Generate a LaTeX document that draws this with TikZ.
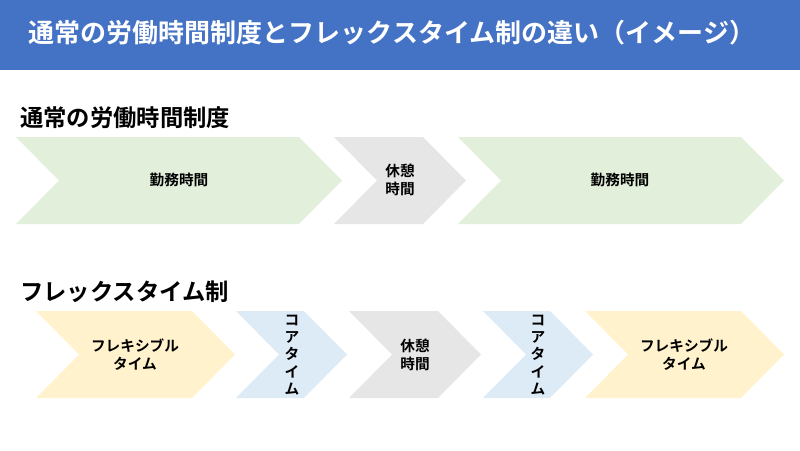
\documentclass[tikz,border=0pt]{standalone}
\usepackage{fontspec}
\setmainfont{Noto Sans CJK JP}[BoldFont={Noto Sans CJK JP Bold}]
\begin{document}
\begin{tikzpicture}[x=0.75pt,y=-0.75pt,
  lbl/.style={font=\bfseries\fontsize{11}{13.5}\selectfont,align=center,inner sep=0},
  vlbl/.style={lbl,font=\bfseries\fontsize{11}{13}\selectfont}]
\useasboundingbox (0,0) rectangle (800,450);
\definecolor{greenf}{HTML}{E2EFDA}\definecolor{grayf}{HTML}{E6E6E6}
\definecolor{bluef}{HTML}{DDEBF7}\definecolor{yellowf}{HTML}{FFF2CC}
\fill[color={rgb,255:red,68;green,114;blue,196}] (0,0) rectangle (800,70);
\node[font=\bfseries\fontsize{19.5}{22}\selectfont,text=white] (title) at (392,33) {通常の労働時間制度とフレックスタイム制の違い（イメージ）};
\node[font=\bfseries\fontsize{17.5}{20}\selectfont,anchor=west,inner sep=0] (h1) at (20,118) {通常の労働時間制度};
\node[font=\bfseries\fontsize{17.5}{20}\selectfont,anchor=west,inner sep=0] (h2) at (20,292) {フレックスタイム制};
\newcommand{\chev}[6]{\fill[#1] (#2,#5) -- (#4,#5) -- (#4+43,#5+43.5) -- (#4,#5+87) -- (#2,#5+87) -- (#2+43,#5+43.5) -- cycle;}
\chev{greenf}{16}{}{299}{137}{}
\chev{grayf}{334}{}{423}{137}{}
\chev{greenf}{458}{}{741}{137}{}
\chev{yellowf}{36}{}{192}{311}{}
\chev{bluef}{236}{}{304}{311}{}
\chev{grayf}{349}{}{438}{311}{}
\chev{bluef}{483}{}{550}{311}{}
\chev{yellowf}{585}{}{741}{311}{}
\node[lbl] (a1) at (179,180) {勤務時間};
\node[lbl] (a2) at (400,180) {休憩\\時間};
\node[lbl] (a3) at (620,180) {勤務時間};
\node[lbl] (b1) at (135,355) {フレキシブル\\タイム};
\node[vlbl] (b2) at (292,355) {コ\\ア\\タ\\イ\\ム};
\node[lbl] (b3) at (415,355) {休憩\\時間};
\node[vlbl] (b4) at (538,355) {コ\\ア\\タ\\イ\\ム};
\node[lbl] (b5) at (684,355) {フレキシブル\\タイム};
\end{tikzpicture}
\end{document}
